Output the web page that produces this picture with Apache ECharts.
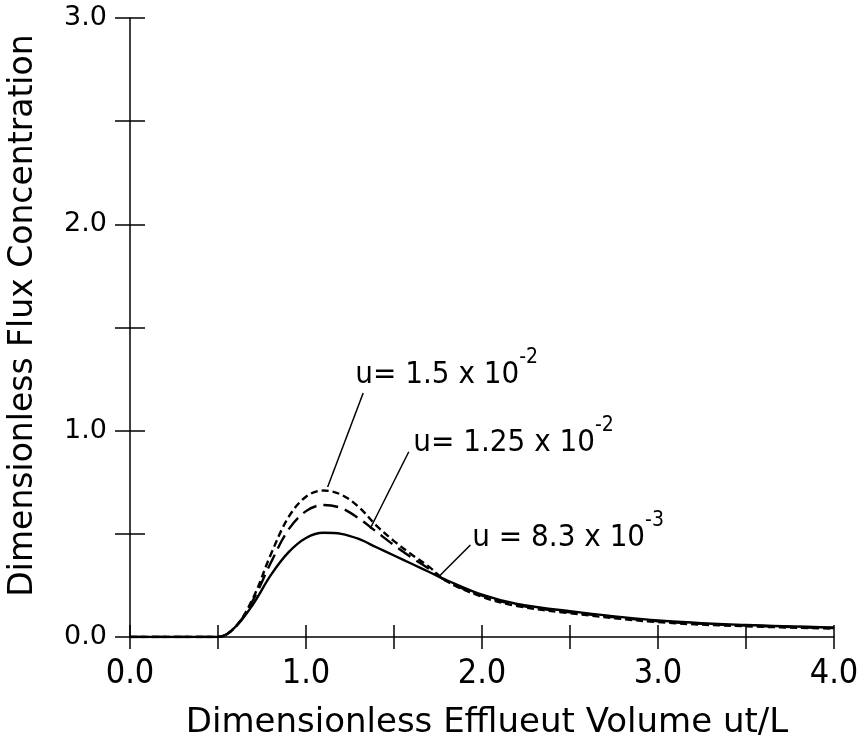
<!DOCTYPE html>
<html>
<head>
<meta charset="utf-8">
<script src="https://cdn.jsdelivr.net/npm/echarts@6/dist/echarts.min.js"></script>
<style>
  html, body { margin: 0; padding: 0; background: #fff; }
  #chart { width: 857px; height: 740px; }
</style>
</head>
<body>
<div id="chart"></div>
<script>
// effluent volume ut/L
const volume = [0, 0.5, 0.6, 0.7, 0.8, 0.9, 1.0, 1.1, 1.2, 1.3, 1.4, 1.5, 1.6, 1.7, 1.8, 2.0, 2.2, 2.5, 3.0, 3.5, 4.0];
// flux concentration for the three u values
const flux83e3 = [0, 0, 0.05, 0.16, 0.30, 0.41, 0.48, 0.505, 0.50, 0.475, 0.435, 0.395, 0.355, 0.315, 0.275, 0.205, 0.16, 0.125, 0.08, 0.058, 0.046];
const flux125e2 = [0, 0, 0.05, 0.18, 0.36, 0.52, 0.61, 0.64, 0.625, 0.575, 0.51, 0.445, 0.385, 0.33, 0.27, 0.20, 0.155, 0.12, 0.076, 0.055, 0.043];
const flux15e2 = [0, 0, 0.05, 0.19, 0.40, 0.58, 0.68, 0.71, 0.69, 0.63, 0.54, 0.465, 0.40, 0.34, 0.27, 0.195, 0.15, 0.115, 0.072, 0.052, 0.041];

// curve labels: text, exponent, where text starts, where the leader line runs
const labelText = ['u= 1.5 x 10', 'u= 1.25 x 10', 'u = 8.3 x 10'];
const labelExp = ['-2', '-2', '-3'];
const labelAt = [[1.28, 1.30], [1.61, 0.97], [1.945, 0.51]];
const leaderFrom = [[1.325, 1.183], [1.584, 0.898], [1.934, 0.446]];
const leaderTo = [[1.123, 0.727], [1.365, 0.526], [1.754, 0.292]];

const ink = '#000';
const condensed = "'DejaVu Sans Condensed', 'Liberation Sans Narrow', sans-serif";
const plain = "'DejaVu Sans', sans-serif";

const chart = echarts.init(document.getElementById('chart'));

const pairs = ys => volume.map((x, i) => [x, ys[i]]);
const everyUnit = v => (Math.abs(v - Math.round(v)) < 1e-6 ? v.toFixed(1) : '');

const xBase = {
  type: 'value', min: 0, max: 4, interval: 0.5, position: 'bottom',
  splitLine: { show: false }
};
const yBase = {
  type: 'value', min: 0, max: 3, interval: 0.5, position: 'left',
  splitLine: { show: false }
};

let option = {
  animation: false,
  backgroundColor: '#fff',
  grid: { left: 130, right: 23, top: 18, bottom: 103, containLabel: false, outerBoundsMode: 'none' },
  xAxis: [
    Object.assign({}, xBase, {
      name: 'Dimensionless Efflueut Volume ut/L',
      nameLocation: 'middle',
      nameGap: 69,
      nameTextStyle: { color: ink, fontSize: 34, fontFamily: plain, padding: [0, 0, 0, 10] },
      axisLine: { lineStyle: { color: ink, width: 1.5 } },
      axisTick: { inside: false, length: 12, lineStyle: { color: ink, width: 1.5 } },
      axisLabel: {
        formatter: everyUnit, margin: 20, color: ink,
        fontSize: 34, fontFamily: condensed,
        showMaxLabel: true, showMinLabel: true
      }
    }),
    Object.assign({}, xBase, {
      axisLine: { show: false },
      axisTick: { inside: true, length: 12, lineStyle: { color: ink, width: 1.5 } },
      axisLabel: { show: false }
    })
  ],
  yAxis: [
    Object.assign({}, yBase, {
      name: 'Dimensionless Flux Concentration',
      nameLocation: 'middle',
      nameGap: 90,
      nameTextStyle: { color: ink, fontSize: 33, fontFamily: plain, padding: [0, 0, 0, 24] },
      axisLine: { lineStyle: { color: ink, width: 1.5 } },
      axisTick: { inside: false, length: 15, lineStyle: { color: ink, width: 1.5 } },
      axisLabel: {
        formatter: everyUnit, margin: 23, color: ink,
        fontSize: 27, fontFamily: plain
      }
    }),
    Object.assign({}, yBase, {
      axisLine: { show: false },
      axisTick: { inside: true, length: 15, lineStyle: { color: ink, width: 1.5 } },
      axisLabel: { show: false }
    })
  ],
  series: [
    {
      name: 'u = 8.3 x 10^-3', type: 'line', smooth: 0.35, symbol: 'none',
      lineStyle: { color: ink, width: 2.4, type: 'solid' },
      data: pairs(flux83e3)
    },
    {
      name: 'u = 1.25 x 10^-2', type: 'line', smooth: 0.35, symbol: 'none',
      lineStyle: { color: ink, width: 2.4, type: [15, 7] },
      data: pairs(flux125e2)
    },
    {
      name: 'u = 1.5 x 10^-2', type: 'line', smooth: 0.35, symbol: 'none',
      lineStyle: { color: ink, width: 2.4, type: [7, 4] },
      data: pairs(flux15e2)
    },
    {
      name: 'labels', type: 'scatter', symbolSize: 0, silent: true,
      itemStyle: { opacity: 1 },
      data: labelAt.map((p, i) => ({ value: p, text: labelText[i], exp: labelExp[i] })),
      label: {
        show: true, position: 'right', distance: 0, color: ink, opacity: 1,
        formatter: p => '{a|' + p.data.text + '}{b|' + p.data.exp + '}',
        rich: {
          a: { fontSize: 31, lineHeight: 44, verticalAlign: 'bottom', color: ink, fontFamily: condensed },
          b: { fontSize: 21, lineHeight: 22, verticalAlign: 'top', color: ink, fontFamily: condensed }
        }
      },
      markLine: {
        silent: true, symbol: ['none', 'none'],
        label: { show: false },
        lineStyle: { color: ink, width: 1.5, type: 'solid', opacity: 1 },
        data: leaderFrom.map((p, i) => [{ coord: p }, { coord: leaderTo[i] }])
      }
    }
  ]
};

option && chart.setOption(option);
</script>
</body>
</html>
